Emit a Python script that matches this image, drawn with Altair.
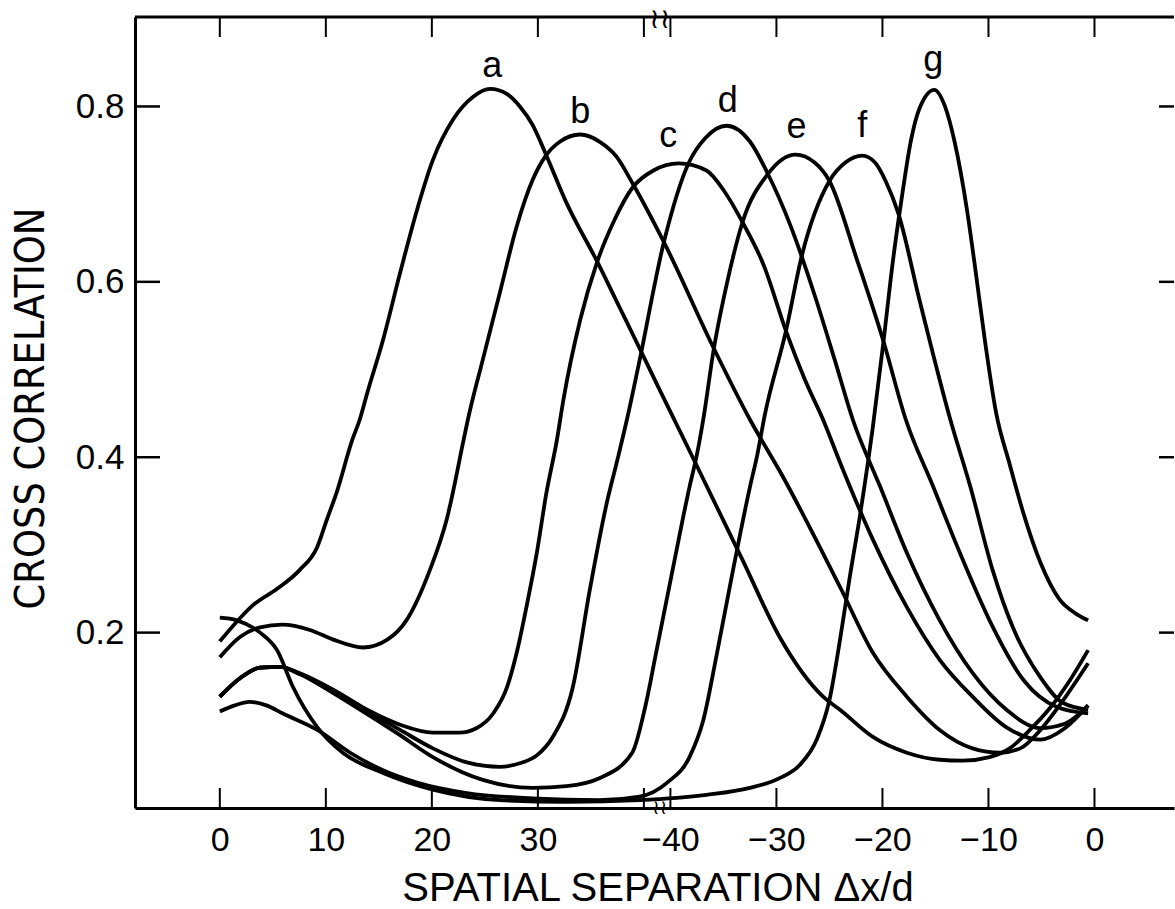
import altair as alt
import pandas as pd

# x position along the broken axis: left part = Δx/d (0 … 40),
# right part = Δx/d + 82.5 (−40 … 0)
a_x = [0.0, 1.2, 3.1, 5.4, 7.5, 9.2, 10.1, 11.0, 12.5, 13.2, 13.9, 15.4, 17.0, 18.6, 20.1, 22.0, 23.9, 25.5, 27.1, 28.3, 29.5, 30.7, 32.7, 35.6, 37.7, 39.2, 41.2, 43.1, 44.6, 49.3, 52.8, 56.9, 58.5, 61.6, 64.8, 67.9, 70.1, 72.6, 74.5, 76.4, 78.3, 80.2, 81.9]
a_y = [0.190, 0.207, 0.231, 0.250, 0.271, 0.298, 0.329, 0.359, 0.420, 0.443, 0.473, 0.534, 0.610, 0.682, 0.739, 0.785, 0.811, 0.820, 0.814, 0.800, 0.779, 0.747, 0.690, 0.623, 0.571, 0.534, 0.484, 0.437, 0.400, 0.283, 0.195, 0.127, 0.112, 0.081, 0.063, 0.055, 0.054, 0.058, 0.068, 0.089, 0.114, 0.146, 0.180]

b_x = [0.0, 1.9, 3.8, 5.9, 8.5, 10.7, 13.5, 15.8, 17.6, 19.8, 21.4, 23.0, 23.4, 24.8, 26.4, 28.0, 29.5, 30.7, 32.1, 34.0, 35.8, 37.4, 38.9, 41.9, 46.6, 50.0, 53.1, 58.5, 61.6, 64.8, 67.9, 71.0, 73.6, 75.5, 77.4, 79.2, 81.9]
b_y = [0.172, 0.195, 0.206, 0.209, 0.203, 0.192, 0.183, 0.192, 0.214, 0.271, 0.329, 0.420, 0.443, 0.511, 0.587, 0.663, 0.716, 0.743, 0.760, 0.768, 0.760, 0.743, 0.713, 0.645, 0.524, 0.443, 0.378, 0.252, 0.177, 0.127, 0.089, 0.068, 0.063, 0.068, 0.089, 0.117, 0.165]

c_x = [0.0, 1.9, 3.8, 5.7, 7.5, 10.7, 13.9, 17.0, 20.1, 22.6, 24.2, 25.8, 27.1, 28.0, 29.0, 29.9, 30.8, 31.8, 32.4, 34.0, 35.6, 37.2, 38.9, 40.9, 43.3, 45.9, 47.6, 49.3, 51.3, 53.4, 55.2, 57.0, 58.5, 61.6, 64.8, 67.9, 71.0, 74.2, 77.4, 79.7, 81.9]
c_y = [0.127, 0.148, 0.160, 0.161, 0.154, 0.135, 0.112, 0.095, 0.086, 0.086, 0.091, 0.108, 0.138, 0.177, 0.234, 0.291, 0.359, 0.420, 0.465, 0.557, 0.623, 0.670, 0.707, 0.727, 0.735, 0.727, 0.703, 0.668, 0.619, 0.544, 0.488, 0.440, 0.394, 0.306, 0.229, 0.169, 0.127, 0.092, 0.078, 0.091, 0.117]

d_x = [0.0, 1.9, 3.8, 5.7, 7.5, 10.7, 13.9, 17.0, 20.1, 23.3, 26.4, 28.3, 29.9, 31.4, 33.3, 34.9, 36.5, 37.5, 38.4, 39.5, 41.9, 44.2, 45.8, 47.8, 50.0, 51.7, 53.8, 56.1, 58.0, 59.7, 62.3, 64.8, 67.9, 71.0, 74.2, 77.4, 79.7, 81.9]
d_y = [0.127, 0.148, 0.160, 0.161, 0.153, 0.132, 0.110, 0.089, 0.068, 0.052, 0.047, 0.051, 0.060, 0.081, 0.138, 0.249, 0.348, 0.397, 0.443, 0.505, 0.646, 0.735, 0.764, 0.778, 0.760, 0.723, 0.665, 0.585, 0.511, 0.443, 0.366, 0.291, 0.214, 0.154, 0.112, 0.091, 0.096, 0.117]

e_x = [0.0, 1.9, 3.8, 5.7, 7.5, 10.7, 13.9, 17.0, 20.1, 24.8, 29.5, 32.7, 35.8, 38.9, 40.1, 41.2, 42.7, 44.3, 45.0, 45.6, 46.6, 47.9, 49.3, 51.7, 54.3, 56.1, 57.5, 60.1, 62.6, 64.7, 67.3, 69.8, 72.6, 75.8, 79.0, 81.9]
e_y = [0.127, 0.148, 0.160, 0.161, 0.153, 0.131, 0.107, 0.083, 0.058, 0.032, 0.023, 0.025, 0.034, 0.063, 0.114, 0.180, 0.271, 0.366, 0.403, 0.443, 0.524, 0.602, 0.668, 0.723, 0.745, 0.736, 0.715, 0.625, 0.532, 0.443, 0.366, 0.291, 0.214, 0.146, 0.115, 0.108]

f_x = [0.0, 1.4, 2.8, 4.4, 5.9, 9.2, 12.3, 15.4, 18.6, 23.3, 29.5, 35.8, 39.6, 42.2, 44.3, 45.6, 46.9, 48.4, 50.0, 50.7, 51.4, 53.4, 54.9, 57.5, 59.0, 60.6, 61.8, 62.8, 64.0, 66.0, 68.9, 70.8, 72.9, 74.8, 77.4, 79.5, 81.9]
f_y = [0.110, 0.117, 0.121, 0.117, 0.108, 0.089, 0.063, 0.043, 0.029, 0.017, 0.011, 0.009, 0.013, 0.029, 0.058, 0.100, 0.177, 0.271, 0.366, 0.403, 0.448, 0.544, 0.630, 0.715, 0.736, 0.744, 0.736, 0.715, 0.678, 0.579, 0.443, 0.366, 0.271, 0.206, 0.149, 0.120, 0.112]

g_x = [0.0, 1.6, 3.8, 5.4, 6.9, 9.2, 11.6, 15.4, 20.1, 26.4, 32.7, 39.6, 45.9, 50.0, 52.8, 54.7, 56.3, 57.5, 58.5, 59.4, 60.4, 61.6, 62.6, 63.5, 64.3, 65.2, 66.0, 67.4, 68.4, 69.3, 70.5, 71.2, 72.2, 73.2, 74.5, 75.8, 77.4, 79.2, 80.7, 81.9]
g_y = [0.217, 0.214, 0.200, 0.180, 0.138, 0.092, 0.063, 0.040, 0.021, 0.009, 0.007, 0.009, 0.015, 0.023, 0.034, 0.049, 0.078, 0.123, 0.192, 0.262, 0.335, 0.435, 0.532, 0.625, 0.694, 0.762, 0.798, 0.819, 0.800, 0.760, 0.680, 0.620, 0.530, 0.452, 0.392, 0.336, 0.280, 0.238, 0.222, 0.214]

curve_names = ["a", "b", "c", "d", "e", "f", "g"]
label_x = [25.7, 34.0, 42.3, 47.9, 54.4, 60.6, 67.3]
label_y = [0.834, 0.781, 0.754, 0.794, 0.764, 0.765, 0.840]

tick_pos = [0, 10, 20, 30, 40, 42.5, 52.5, 62.5, 72.5, 82.5]
tick_labels = ["0", "10", "20", "30", "", "−40", "−30", "−20", "−10", "0"]
y_ticks = [0.2, 0.4, 0.6, 0.8]
break_pos = [41.5]

W, H = 1039, 791
FONT = "Liberation Sans, Arial, Helvetica, sans-serif"
NARROW = "Liberation Sans Narrow, DejaVu Sans Condensed, Arial Narrow, sans-serif"

xs = [a_x, b_x, c_x, d_x, e_x, f_x, g_x]
ys = [a_y, b_y, c_y, d_y, e_y, f_y, g_y]
rows = []
for name, cx, cy in zip(curve_names, xs, ys):
    for i, (px, py) in enumerate(zip(cx, cy)):
        rows.append({"curve": name, "pos": px, "corr": py, "i": i})
curves = pd.DataFrame(rows)

labels_df = pd.DataFrame({"name": curve_names, "pos": label_x, "corr": label_y})
ticks_df = pd.DataFrame({"pos": tick_pos})
yticks_df = pd.DataFrame({"corr": y_ticks})
breaks_df = pd.DataFrame({"pos": break_pos})
frame_df = pd.DataFrame({"k": [0]})

labeled = [(p, l) for p, l in zip(tick_pos, tick_labels) if l]
label_expr = " : ".join(f"datum.value == {p} ? '{l}'" for p, l in labeled) + " : ''"

x_scale = alt.Scale(domain=[-8.0, 90.0], nice=False, zero=False)
y_scale = alt.Scale(domain=[0.0, 0.902], nice=False, zero=False)

x_axis = alt.Axis(
    values=[p for p, _ in labeled], labelExpr=label_expr, ticks=False, tickSize=0,
    grid=False, domain=True, domainWidth=3, domainColor="black",
    labelFont=FONT, labelFontSize=34, labelColor="black", labelPadding=15,
    labelOverlap=False, labelFlush=False,
    title="SPATIAL SEPARATION Δx/d", titleFont=FONT, titleFontSize=40,
    titleFontWeight="normal", titleColor="black", titleX=W / 2 + 3, titleY=92,
    titleBaseline="alphabetic", titleAlign="center",
)
y_axis = alt.Axis(
    values=y_ticks, format=".1f", ticks=False, tickSize=0, grid=False,
    domain=True, domainWidth=3, domainColor="black",
    labelFont=FONT, labelFontSize=35, labelColor="black", labelPadding=11,
    labelOverlap=False, labelFlush=False,
    title="CROSS CORRELATION", titleFont=NARROW, titleFontSize=41,
    titleFontWeight="normal", titleColor="black", titleX=-92, titleY=391,
    titleBaseline="alphabetic", titleAlign="center", titleAngle=270,
)

X = alt.X("pos:Q", scale=x_scale, axis=x_axis)
Y = alt.Y("corr:Q", scale=y_scale, axis=y_axis)

lines = alt.Chart(curves).mark_line(
    color="black", strokeWidth=3.8, interpolate="monotone"
).encode(x=X, y=Y, detail="curve:N", order="i:Q")

texts = alt.Chart(labels_df).mark_text(
    font=FONT, fontSize=36, color="black", baseline="alphabetic", align="center"
).encode(x=X, y=Y, text="name:N")

bottom_ticks = alt.Chart(ticks_df).mark_rule(color="black", strokeWidth=2).encode(
    x=X, y=alt.value(H), y2=alt.value(H - 20)
)
top_ticks = alt.Chart(ticks_df).mark_rule(color="black", strokeWidth=2).encode(
    x=X, y=alt.value(0), y2=alt.value(20)
)
left_ticks = alt.Chart(yticks_df).mark_rule(color="black", strokeWidth=2.5).encode(
    y=Y, x=alt.value(0), x2=alt.value(25)
)
right_ticks = alt.Chart(yticks_df).mark_rule(color="black", strokeWidth=2.5).encode(
    y=Y, x=alt.value(W - 15), x2=alt.value(W)
)
top_frame = alt.Chart(frame_df).mark_rule(color="black", strokeWidth=3).encode(
    x=alt.value(0), x2=alt.value(W), y=alt.value(0)
)
break_top = alt.Chart(breaks_df).mark_text(
    text="≀≀", font="DejaVu Sans", fontSize=28, color="black", baseline="middle"
).encode(x=X, y=alt.value(3))
break_bottom = alt.Chart(breaks_df).mark_text(
    text="≀≀", font="DejaVu Sans", fontSize=20, color="black", baseline="middle"
).encode(x=X, y=alt.value(H))

chart = alt.layer(
    lines, texts, bottom_ticks, top_ticks, left_ticks, right_ticks,
    top_frame, break_top, break_bottom,
).properties(
    width=W, height=H,
    padding={"left": 135, "top": 17, "right": 1, "bottom": 101},
    autosize=alt.AutoSizeParams(type="none"),
    background="white",
).configure_view(stroke=None)

chart.save("out.html", embed_options={"renderer": "svg", "actions": False})
